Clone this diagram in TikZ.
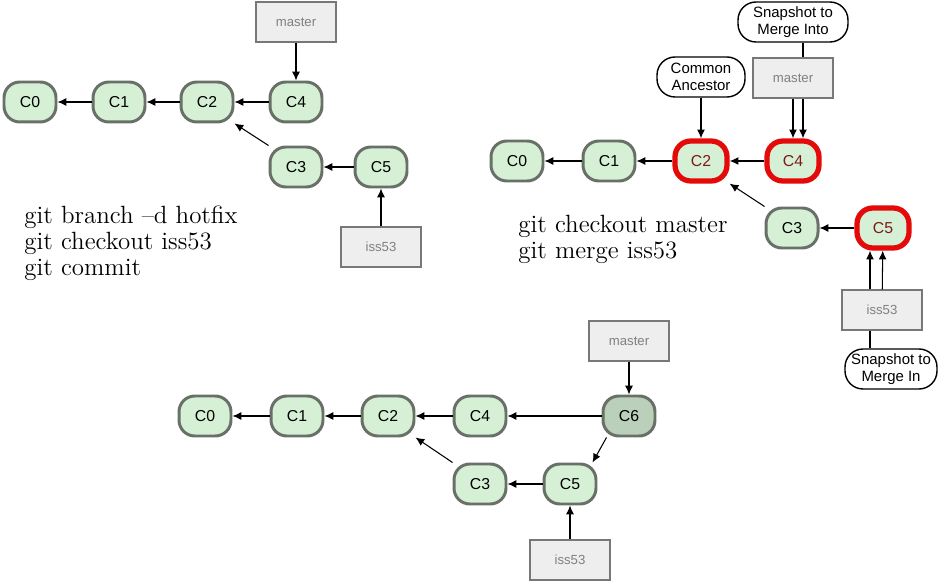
\documentclass[tikz,border=0pt]{standalone}
\usepackage{fontspec}
\setsansfont{Liberation Sans}
\usepackage{xcolor}
\usetikzlibrary{arrows.meta, positioning}

\definecolor{commitfill}{RGB}{214,240,214}
\definecolor{commitline}{RGB}{104,112,104}
\definecolor{mergefill}{RGB}{186,208,186}
\definecolor{hilite}{RGB}{228,10,10}
\definecolor{hilitetext}{RGB}{128,24,24}
\definecolor{branchfill}{RGB}{238,238,238}
\definecolor{branchline}{RGB}{120,120,120}

\tikzset{
  commit/.style={draw=commitline, fill=commitfill, line width=1.7pt, rounded corners=9pt,
    minimum width=1.04cm, minimum height=0.8cm, font=\sffamily\fontsize{9}{10}\selectfont},
  picked/.style={commit, draw=hilite, line width=3pt, text=hilitetext},
  branch/.style={draw=branchline, fill=branchfill, line width=0.8pt,
    minimum width=1.6cm, minimum height=0.8cm, text=gray, font=\sffamily\fontsize{7.5}{9}\selectfont},
  callout/.style={draw, fill=white, line width=0.8pt, rounded corners=0.36cm, align=center,
    inner sep=2pt, minimum height=0.8cm, font=\sffamily\fontsize{8.5}{9.5}\selectfont},
  cmd/.style={anchor=north west, align=left, inner sep=0pt, font=\fontsize{14.2}{14.6}\selectfont},
  link/.style={-{Latex[length=5pt,width=4.5pt]}, line width=0.6pt}
}

\begin{document}
\begin{tikzpicture}[x=0.02cm, y=-0.02cm]
        \useasboundingbox (0,0) rectangle (946,587);

        % before the merge
        \node[commit] (A0) at (30,102) {C0};
        \node[commit] (A1) at (119,102) {C1};
        \node[commit] (A2) at (207,102) {C2};
        \node[commit] (A4) at (296,102) {C4};
        \node[commit] (A3) at (296,167) {C3};
        \node[commit] (A5) at (381,167) {C5};
        \node[branch] (Amaster) at (296,22) {master};
        \node[branch] (Aiss) at (381,247) {iss53};
        \node[cmd] (Atext) at (24,206) {git branch –d hotfix\\git checkout iss53\\git commit};

        \draw[link] (A1) -- (A0);
        \draw[link] (A2) -- (A1);
        \draw[link] (A4) -- (A2);
        \draw[link] (A3.north west) -- (A2.south east);
        \draw[link] (A5) -- (A3);
        \draw[link] (Amaster) -- (A4);
        \draw[link] (Aiss) -- (A5);

        % the three snapshots
        \node[commit] (B0) at (517,161) {C0};
        \node[commit] (B1) at (609,161) {C1};
        \node[picked] (B2) at (701,161) {C2};
        \node[picked] (B4) at (793,161) {C4};
        \node[commit] (B3) at (792,228) {C3};
        \node[picked] (B5) at (883,228) {C5};
        \node[branch] (Bmaster) at (793,78) {master};
        \node[branch] (Biss) at (882,310) {iss53};
        \node[callout, minimum width=1.76cm] (Bbase) at (701,77) {Common\\Ancestor};
        \node[callout, minimum width=2.2cm] (Binto) at (793,22) {Snapshot to\\Merge Into};
        \node[callout, minimum width=1.84cm] (Bin) at (891,369) {Snapshot to\\Merge In};
        \node[cmd] (Btext) at (518,215) {git checkout master\\git merge iss53};

        \draw[link] (B1) -- (B0);
        \draw[link] (B2) -- (B1);
        \draw[link] (B4) -- (B2);
        \draw[link] (B3.north west) -- (B2.south east);
        \draw[link] (B5) -- (B3);
        \draw[link] (Bbase) -- (B2);
        \draw[link] (Bmaster) -- (B4);
        \draw[line width=0.6pt] ([xshift=0.2cm]Binto.south) -- ([xshift=0.2cm]Binto.south |- Bmaster.north);
        \draw[link] ([xshift=0.2cm]Bmaster.south) -- ([xshift=0.2cm]Bmaster.south |- B4.north);
        \draw[link] (Biss) -- (B5);
        \draw[link] ([xshift=-0.24cm]Biss.north) -- ([xshift=-0.24cm]Biss.north |- B5.south);
        \draw[line width=0.6pt] ([xshift=-0.24cm]Biss.south) -- ([xshift=-0.24cm]Biss.south |- Bin.north);

        % after the merge
        \node[commit] (D0) at (205,416) {C0};
        \node[commit] (D1) at (297,416) {C1};
        \node[commit] (D2) at (388,416) {C2};
        \node[commit] (D4) at (480,416) {C4};
        \node[commit, fill=mergefill] (D6) at (629,416) {C6};
        \node[commit] (D3) at (480,484) {C3};
        \node[commit] (D5) at (570,484) {C5};
        \node[branch] (Dmaster) at (629,341) {master};
        \node[branch] (Diss) at (570,560) {iss53};

        \draw[link] (D1) -- (D0);
        \draw[link] (D2) -- (D1);
        \draw[link] (D4) -- (D2);
        \draw[link] (D6) -- (D4);
        \draw[link] (D3.north west) -- (D2.south east);
        \draw[link] ([xshift=0.1cm]D6.south west) -- ([xshift=-0.1cm]D5.north east);
        \draw[link] (D5) -- (D3);
        \draw[link] (Dmaster) -- (D6);
        \draw[link] (Diss) -- (D5);

      \end{tikzpicture}
\end{document}
